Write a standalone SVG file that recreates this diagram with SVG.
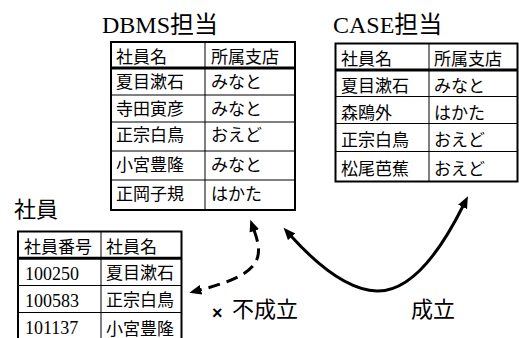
<svg xmlns="http://www.w3.org/2000/svg" width="519" height="338" viewBox="0 0 519 338">
<style>
.bg{fill:#fff}
.outer{fill:none;stroke:#000;stroke-width:2}
.head{stroke:#000;stroke-width:3}
.inner{stroke:#000;stroke-width:1}
.cell{font-family:"Noto Sans CJK JP","Noto Sans CJK SC",sans-serif;font-size:17px;fill:#000}
.num{font-family:"Liberation Serif",serif;font-size:18px;fill:#000}
.title{font-family:"Liberation Serif","Noto Sans CJK JP","Noto Sans CJK SC",serif;font-size:24px;fill:#000}
.lbl{font-family:"Noto Sans CJK JP","Noto Sans CJK SC",sans-serif;font-size:22px;fill:#000}
.conn{fill:none;stroke:#000;stroke-width:3}
.dash{stroke-dasharray:12 7}
</style>
<defs>
<marker id="ah" markerUnits="userSpaceOnUse" markerWidth="14" markerHeight="12" refX="1" refY="5" orient="auto-start-reverse" viewBox="0 0 14 10">
<path d="M0,0 L12,5 L0,10 z" fill="#000"/>
</marker>
</defs>
<rect class="bg" x="0" y="0" width="519" height="338"/>

<g id="dbms-label">
<text class="title" x="102" y="32.5">DBMS担当</text>
</g>
<g id="dbms-table">
<rect class="outer" x="111" y="42" width="184" height="168"/>
<line class="head" x1="111" y1="68" x2="295" y2="68"/>
<line class="inner" x1="111" y1="95" x2="295" y2="95"/>
<line class="inner" x1="111" y1="122" x2="295" y2="122"/>
<line class="inner" x1="111" y1="151" x2="295" y2="151"/>
<line class="inner" x1="111" y1="180" x2="295" y2="180"/>
<line class="inner" x1="205" y1="42" x2="205" y2="210"/>
<text class="cell" x="116" y="63">社員名</text><text class="cell" x="211" y="63">所属支店</text>
<text class="cell" x="116" y="88">夏目漱石</text><text class="cell" x="211" y="88">みなと</text>
<text class="cell" x="116" y="115">寺田寅彦</text><text class="cell" x="211" y="115">みなと</text>
<text class="cell" x="116" y="141">正宗白鳥</text><text class="cell" x="211" y="141">おえど</text>
<text class="cell" x="116" y="171">小宮豊隆</text><text class="cell" x="211" y="171">みなと</text>
<text class="cell" x="116" y="200">正岡子規</text><text class="cell" x="211" y="200">はかた</text>
</g>

<g id="case-label">
<text class="title" x="333" y="33">CASE担当</text>
</g>
<g id="case-table">
<rect class="outer" x="335.5" y="43.5" width="182" height="138"/>
<line class="head" x1="335.5" y1="70" x2="517.5" y2="70"/>
<line class="inner" x1="335.5" y1="96.5" x2="517.5" y2="96.5"/>
<line class="inner" x1="335.5" y1="123.5" x2="517.5" y2="123.5"/>
<line class="inner" x1="335.5" y1="151.5" x2="517.5" y2="151.5"/>
<line class="inner" x1="429" y1="43.5" x2="429" y2="181.5"/>
<text class="cell" x="341" y="64.5">社員名</text><text class="cell" x="434" y="64.5">所属支店</text>
<text class="cell" x="341" y="91.5">夏目漱石</text><text class="cell" x="434" y="91.5">みなと</text>
<text class="cell" x="341" y="119">森鴎外</text><text class="cell" x="434" y="119">はかた</text>
<text class="cell" x="341" y="145.5">正宗白鳥</text><text class="cell" x="434" y="145.5">おえど</text>
<text class="cell" x="341" y="174.5">松尾芭蕉</text><text class="cell" x="434" y="174.5">おえど</text>
</g>

<g id="emp-label">
<text class="lbl" x="14" y="217">社員</text>
</g>
<g id="emp-table">
<rect class="outer" x="18" y="231.5" width="163.5" height="115"/>
<line class="head" x1="18" y1="258.3" x2="181.5" y2="258.3"/>
<line class="inner" x1="18" y1="285.5" x2="181.5" y2="285.5"/>
<line class="inner" x1="18" y1="312.5" x2="181.5" y2="312.5"/>
<line class="inner" x1="101" y1="231.5" x2="101" y2="346"/>
<text class="cell" x="24" y="253">社員番号</text><text class="cell" x="106" y="252.5">社員名</text>
<text class="num" x="25" y="279.5">100250</text><text class="cell" x="106" y="279">夏目漱石</text>
<text class="num" x="25" y="306.5">100583</text><text class="cell" x="106" y="306">正宗白鳥</text>
<text class="num" x="25" y="334">101137</text><text class="cell" x="106" y="334.5">小宮豊隆</text>
</g>

<g id="connectors">
<path class="conn dash" d="M254,230 C264,258 262,274 200,290" marker-start="url(#ah)" marker-end="url(#ah)"/>
<path class="conn" d="M291,236 Q340,290 377,291 Q420,292 463,206" marker-start="url(#ah)" marker-end="url(#ah)"/>
</g>

<g id="fail-label">
<text x="212" y="319" style="font-family:'Liberation Sans',sans-serif;font-size:18px;font-weight:bold">×</text>
<text class="lbl" x="232" y="316.5">不成立</text>
</g>
<g id="ok-label">
<text class="lbl" x="411" y="316.5">成立</text>
</g>
</svg>
